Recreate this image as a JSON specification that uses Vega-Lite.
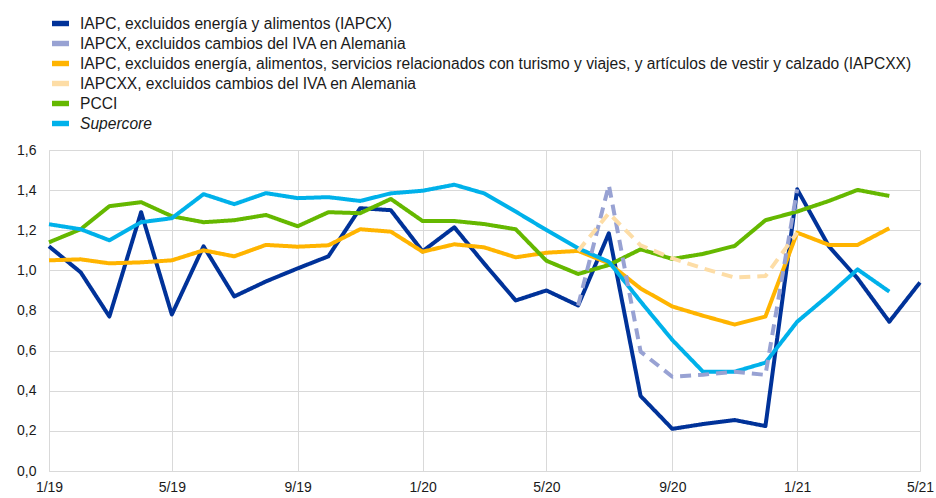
{
  "$schema": "https://vega.github.io/schema/vega-lite/v6.json",
  "width": 871,
  "height": 321,
  "autosize": "none",
  "padding": {"left": 49, "top": 150, "right": 16, "bottom": 27},
  "background": "white",
  "config": {
    "view": {"stroke": null},
    "font": "Liberation Sans",
    "axis": {"labelFont": "Liberation Sans", "labelFontSize": 14, "labelColor": "#1a1a1a", "gridColor": "#d9d9d9", "gridWidth": 1, "domainColor": "#d9d9d9", "ticks": false, "title": null}
  },
  "data": {
    "values": [
      {"date": "2019-01-01", "IAPCX": 1.12, "IAPCXX": 1.05, "PCCI": 1.14, "Supercore": 1.23},
      {"date": "2019-02-01", "IAPCX": 0.99, "IAPCXX": 1.055, "PCCI": 1.205, "Supercore": 1.205},
      {"date": "2019-03-01", "IAPCX": 0.77, "IAPCXX": 1.035, "PCCI": 1.32, "Supercore": 1.15},
      {"date": "2019-04-01", "IAPCX": 1.29, "IAPCXX": 1.04, "PCCI": 1.34, "Supercore": 1.24},
      {"date": "2019-05-01", "IAPCX": 0.78, "IAPCXX": 1.05, "PCCI": 1.27, "Supercore": 1.26},
      {"date": "2019-06-01", "IAPCX": 1.12, "IAPCXX": 1.10, "PCCI": 1.24, "Supercore": 1.38},
      {"date": "2019-07-01", "IAPCX": 0.87, "IAPCXX": 1.07, "PCCI": 1.25, "Supercore": 1.33},
      {"date": "2019-08-01", "IAPCX": 0.945, "IAPCXX": 1.127, "PCCI": 1.276, "Supercore": 1.385},
      {"date": "2019-09-01", "IAPCX": 1.01, "IAPCXX": 1.118, "PCCI": 1.22, "Supercore": 1.36},
      {"date": "2019-10-01", "IAPCX": 1.07, "IAPCXX": 1.125, "PCCI": 1.29, "Supercore": 1.365},
      {"date": "2019-11-01", "IAPCX": 1.31, "IAPCXX": 1.205, "PCCI": 1.285, "Supercore": 1.346},
      {"date": "2019-12-01", "IAPCX": 1.30, "IAPCXX": 1.193, "PCCI": 1.356, "Supercore": 1.384},
      {"date": "2020-01-01", "IAPCX": 1.095, "IAPCXX": 1.093, "PCCI": 1.246, "Supercore": 1.397},
      {"date": "2020-02-01", "IAPCX": 1.215, "IAPCXX": 1.13, "PCCI": 1.246, "Supercore": 1.427},
      {"date": "2020-03-01", "IAPCX": 1.035, "IAPCXX": 1.115, "PCCI": 1.231, "Supercore": 1.384},
      {"date": "2020-04-01", "IAPCX": 0.85, "IAPCXX": 1.065, "PCCI": 1.205, "Supercore": 1.293},
      {"date": "2020-05-01", "IAPCX": 0.90, "IAPCXX": 1.088, "PCCI": 1.048, "Supercore": 1.201},
      {"date": "2020-06-01", "IAPCX": 0.825, "IAPCX_sinIVA": 0.825, "IAPCXX": 1.097, "IAPCXX_sinIVA": 1.097, "PCCI": 0.982, "Supercore": 1.11},
      {"date": "2020-07-01", "IAPCX": 1.185, "IAPCX_sinIVA": 1.425, "IAPCXX": 1.035, "IAPCXX_sinIVA": 1.285, "PCCI": 1.027, "Supercore": 1.043},
      {"date": "2020-08-01", "IAPCX": 0.374, "IAPCX_sinIVA": 0.595, "IAPCXX": 0.91, "IAPCXX_sinIVA": 1.125, "PCCI": 1.105, "Supercore": 0.845},
      {"date": "2020-09-01", "IAPCX": 0.21, "IAPCX_sinIVA": 0.47, "IAPCXX": 0.82, "IAPCXX_sinIVA": 1.06, "PCCI": 1.057, "Supercore": 0.653},
      {"date": "2020-10-01", "IAPCX": 0.234, "IAPCX_sinIVA": 0.48, "IAPCXX": 0.774, "IAPCXX_sinIVA": 1.01, "PCCI": 1.082, "Supercore": 0.495},
      {"date": "2020-11-01", "IAPCX": 0.254, "IAPCX_sinIVA": 0.495, "IAPCXX": 0.73, "IAPCXX_sinIVA": 0.964, "PCCI": 1.122, "Supercore": 0.495},
      {"date": "2020-12-01", "IAPCX": 0.224, "IAPCX_sinIVA": 0.479, "IAPCXX": 0.77, "IAPCXX_sinIVA": 0.972, "PCCI": 1.25, "Supercore": 0.54},
      {"date": "2021-01-01", "IAPCX": 1.404, "IAPCX_sinIVA": 1.404, "IAPCXX": 1.188, "IAPCXX_sinIVA": 1.188, "PCCI": 1.293, "Supercore": 0.744},
      {"date": "2021-02-01", "IAPCX": 1.12, "IAPCXX": 1.127, "PCCI": 1.346, "Supercore": 0.877},
      {"date": "2021-03-01", "IAPCX": 0.96, "IAPCXX": 1.127, "PCCI": 1.401, "Supercore": 1.005},
      {"date": "2021-04-01", "IAPCX": 0.744, "IAPCXX": 1.21, "PCCI": 1.371, "Supercore": 0.894},
      {"date": "2021-05-01", "IAPCX": 0.94}
    ]
  },
  "transform": [
    {"fold": ["IAPCX", "IAPCX_sinIVA", "IAPCXX", "IAPCXX_sinIVA", "PCCI", "Supercore"], "as": ["serie", "valor"]},
    {"filter": "isValid(datum.valor)"}
  ],
  "mark": {"type": "line", "strokeWidth": 4, "strokeJoin": "round"},
  "encoding": {
    "x": {
      "field": "date",
      "type": "temporal",
      "scale": {"type": "utc", "domain": ["2019-01-01", "2021-05-01"]},
      "axis": {
        "values": ["2019-01-01", "2019-05-01", "2019-09-01", "2020-01-01", "2020-05-01", "2020-09-01", "2021-01-01", "2021-05-01"],
        "labelExpr": "utcFormat(datum.value, '%-m/%y')",
        "labelPadding": 9,
        "grid": true,
        "labelOverlap": false,
        "labelFlush": false
      }
    },
    "y": {
      "field": "valor",
      "type": "quantitative",
      "scale": {"domain": [0, 1.6], "nice": false},
      "axis": {
        "values": [0, 0.2, 0.4, 0.6, 0.8, 1.0, 1.2, 1.4, 1.6],
        "labelExpr": "replace(format(datum.value, '.1f'), '.', ',')",
        "labelPadding": 13,
        "grid": true
      }
    },
    "color": {
      "field": "serie",
      "type": "nominal",
      "scale": {
        "domain": ["IAPCX", "IAPCX_sinIVA", "IAPCXX", "IAPCXX_sinIVA", "PCCI", "Supercore"],
        "range": ["#003299", "#98a2d3", "#ffb400", "#fddda6", "#65b800", "#00b1ea"]
      },
      "legend": {
        "orient": "none",
        "legendX": 3,
        "legendY": -135,
        "title": null,
        "symbolType": "M-1,-0.32H1V0.32H-1Z",
        "symbolSize": 289,
        "symbolStrokeWidth": 0,
        "symbolDash": [1, 0],
        "labelFont": "Liberation Sans",
        "labelFontSize": 15.6,
        "labelColor": "#1a1a1a",
        "labelOffset": 11,
        "rowPadding": 2,
        "labelLimit": 1000,
        "labelExpr": "datum.value == 'IAPCX' ? 'IAPC, excluidos energía y alimentos (IAPCX)' : datum.value == 'IAPCX_sinIVA' ? 'IAPCX, excluidos cambios del IVA en Alemania' : datum.value == 'IAPCXX' ? 'IAPC, excluidos energía, alimentos, servicios relacionados con turismo y viajes, y artículos de vestir y calzado (IAPCXX)' : datum.value == 'IAPCXX_sinIVA' ? 'IAPCXX, excluidos cambios del IVA en Alemania' : datum.value == 'PCCI' ? 'PCCI' : 'Supercore'",
        "encode": {
          "symbols": {"update": {"fill": {"signal": "scale('color', datum.value)"}, "fillOpacity": {"value": 1}, "strokeWidth": {"value": 0}}},
          "labels": {"update": {"fontStyle": {"signal": "datum.value == 'Supercore' ? 'italic' : 'normal'"}}}
        }
      }
    },
    "strokeDash": {
      "field": "serie",
      "type": "nominal",
      "scale": {
        "domain": ["IAPCX", "IAPCX_sinIVA", "IAPCXX", "IAPCXX_sinIVA", "PCCI", "Supercore"],
        "range": [[1, 0], [11, 7], [1, 0], [11, 7], [1, 0], [1, 0]]
      },
      "legend": null
    }
  }
}
